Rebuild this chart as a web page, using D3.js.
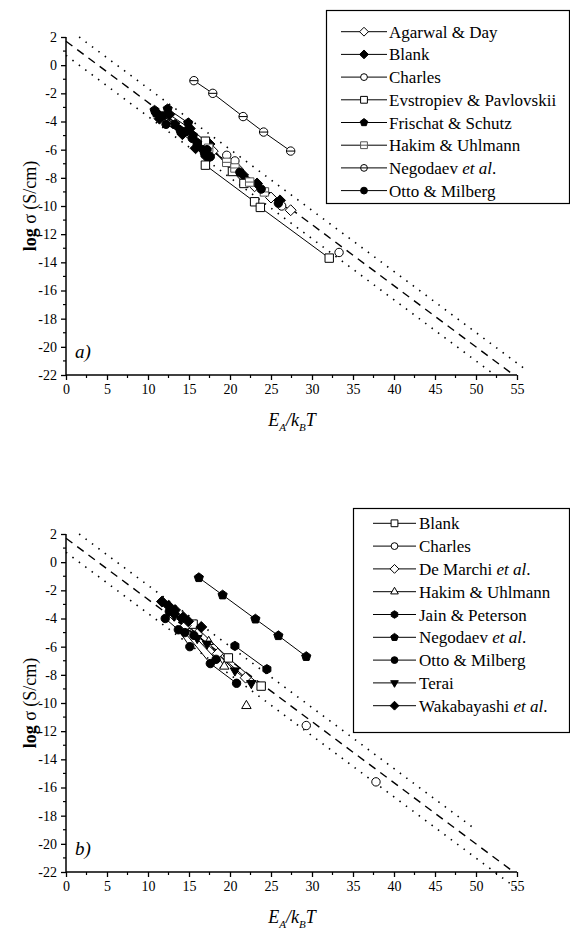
<!DOCTYPE html>
<html><head><meta charset="utf-8">
<script src="https://cdn.jsdelivr.net/npm/d3@7"></script>
<style>
body{margin:0;background:#fff}
</style>
</head><body>
<svg id="c" width="570" height="933"></svg>
<script>
// ---------- data ----------
const xTickValues = [0,5,10,15,20,25,30,35,40,45,50,55];
const yTickValues = [2,0,-2,-4,-6,-8,-10,-12,-14,-16,-18,-20,-22];
const xDomain = [0,55];
const yDomain = [-22,2];

// reference lines (data coordinates of end points)
const aRefDashed = [[0,1.7],[54.6,-22]];
const aRefDottedUpper = [[1.6,2],[55.8,-21.5]];
const aRefDottedLower = [[0,0.7],[52.3,-22]];
const bRefDashed = [[0,1.7],[54.6,-22]];
const bRefDottedUpper = [[1.6,2],[50.0,-19.0]];
const bRefDottedLower = [[0,0.7],[55.5,-23.4]];

// panel a) series : each series is a list of connected runs
const aNames = ["Agarwal & Day","Blank","Charles","Evstropiev & Pavlovskii","Frischat & Schutz","Hakim & Uhlmann","Negodaev et al.","Otto & Milberg"];
const aSymbols = ["diamondOpen","diamondFilled","circleOpen","squareOpen","pentagonFilled","squareLine","circleLine","circleFilled"];
const aAgarwal = [[[17.9,-6.1],[20.0,-7.0],[21.0,-7.4]], [[23.0,-8.6],[25.0,-9.4],[27.4,-10.3]]];
const aBlank = [[[11.4,-3.8],[14.2,-4.9],[16.6,-5.9]], [[12.6,-3.5],[15.1,-4.5],[17.5,-5.6]], [[15.8,-5.9],[17.3,-6.6]], [[21.6,-7.8],[23.3,-8.4],[26.1,-9.6]]];
const aCharles = [[[19.6,-6.4]],[[20.6,-6.8]],[[26.3,-10.0]],[[33.3,-13.3]]];
const aEvstropiev = [[[17.0,-7.1],[23.0,-9.7],[23.7,-10.1],[32.1,-13.7]], [[17.0,-5.4],[20.3,-7.55],[21.7,-8.4]]];
const aFrischat = [[[11.0,-3.4],[13.9,-4.6],[16.0,-5.5]], [[12.4,-3.1],[14.9,-4.1]], [[10.8,-3.2],[13.3,-4.2],[15.5,-5.0],[16.9,-6.3]]];
const aHakim = [[[17.4,-5.9],[19.6,-6.9],[20.6,-7.3]], [[22.4,-8.3],[24.2,-9.0]]];
const aNegodaev = [[[15.6,-1.1],[17.9,-2.0],[21.6,-3.65],[24.1,-4.75],[27.4,-6.1]]];
const aOtto = [[[11.8,-3.6],[14.6,-4.7],[17.2,-6.0]], [[12.2,-4.2],[15.4,-5.2]], [[16.0,-5.6],[17.6,-6.5]], [[21.2,-7.6],[23.8,-8.8],[25.9,-9.8]]];
const aSeries = [aAgarwal,aBlank,aCharles,aEvstropiev,aFrischat,aHakim,aNegodaev,aOtto];

// panel b) series
const bNames = ["Blank","Charles","De Marchi et al.","Hakim & Uhlmann","Jain & Peterson","Negodaev et al.","Otto & Milberg","Terai","Wakabayashi et al."];
const bSymbols = ["squareOpen","circleOpen","diamondOpen","triUpOpen","hexagonFilled","pentagonFilled","circleFilled","triDownFilled","diamondFilled"];
const bBlank = [[[15.5,-4.4],[19.8,-6.8],[23.8,-8.8]]];
const bCharles = [[[29.3,-11.6]],[[37.8,-15.6]]];
const bDeMarchi = [[[13.2,-3.8],[14.6,-4.5],[16.0,-5.1]], [[18.5,-6.5],[21.9,-8.2]]];
const bHakim = [[[17.4,-5.65],[19.3,-7.4]], [[22.0,-10.2]]];
const bJain = [[[20.6,-5.95],[24.5,-7.6]]];
const bNegodaev = [[[16.2,-1.1],[19.1,-2.33],[23.1,-4.04],[25.9,-5.22],[29.3,-6.7]]];
const bOtto = [[[12.1,-4.0],[13.7,-4.8],[15.1,-6.0]], [[14.5,-5.0],[17.6,-7.2],[20.8,-8.6]], [[12.6,-3.5],[15.6,-5.2],[18.3,-6.9]]];
const bTerai = [[[14.0,-4.0],[17.2,-5.8],[20.6,-7.7],[22.6,-8.6]], [[13.2,-3.8],[16.0,-5.4]]];
const bWakabayashi = [[[11.7,-2.8],[13.3,-3.4],[14.9,-4.2]], [[12.5,-3.1],[14.3,-3.9],[16.5,-4.6]]];
const bSeries = [bBlank,bCharles,bDeMarchi,bHakim,bJain,bNegodaev,bOtto,bTerai,bWakabayashi];

// ---------- drawing ----------
const svg = d3.select("#c");
const FONT = '"Liberation Serif", "Times New Roman", Times';

function symPath(type, s){
  const p = d3.path();
  const poly = (n, rot, r) => {
    for(let k=0;k<n;k++){
      const a = (rot + 360*k/n)*Math.PI/180;
      const x = r*Math.cos(a), y = r*Math.sin(a);
      if(k===0) p.moveTo(x,y); else p.lineTo(x,y);
    }
    p.closePath();
  };
  if(type.startsWith("circle")){ p.moveTo(s,0); p.arc(0,0,s,0,2*Math.PI); p.closePath(); if(type==="circleLine"){p.moveTo(-s,0);p.lineTo(s,0);} }
  else if(type.startsWith("square")){ p.rect(-s,-s,2*s,2*s); if(type==="squareLine"){p.moveTo(-s,0);p.lineTo(s,0);} }
  else if(type.startsWith("diamond")){ poly(4,-90,s*1.3); }
  else if(type.startsWith("pentagon")){ poly(5,-90,s*1.15); }
  else if(type.startsWith("hexagon")){ poly(6,-90,s*1.1); }
  else if(type.startsWith("triUp")){ poly(3,-90,s*1.3); }
  else if(type.startsWith("triDown")){ poly(3,90,s*1.3); }
  return p.toString();
}
function symStyle(sel, type){
  const filled = type.endsWith("Filled");
  const gray = type==="squareLine";
  sel.attr("fill", filled? "#000":"#fff")
     .attr("stroke", gray? "#555":"#000")
     .attr("stroke-width", 1);
}

function panel(opts){
  const {y0,y1,series,symbols,names,label,legend,refs} = opts;
  const x = d3.scaleLinear().domain(xDomain).range([66,517]);
  const y = d3.scaleLinear().domain(yDomain).range([y1,y0]);
  const g = svg.append("g");

  // reference lines
  const lg = d3.line().x(d=>x(d[0])).y(d=>y(d[1]));
  g.append("path").attr("d",lg(refs[0])).attr("fill","none").attr("stroke","#000")
    .attr("stroke-width",1.4).attr("stroke-dasharray","8,6");
  [refs[1], refs[2]].forEach(l=>{
    g.append("path").attr("d",lg(l)).attr("fill","none").attr("stroke","#000")
      .attr("stroke-width",1.6).attr("stroke-dasharray","1.5,6.5");
  });

  // data lines
  series.forEach(runs=>{
    runs.forEach(run=>{
      if(run.length>1) g.append("path").attr("d",lg(run)).attr("fill","none")
        .attr("stroke","#000").attr("stroke-width",1);
    });
  });
  // symbols
  series.forEach((runs,i)=>{
    runs.forEach(run=>{
      run.forEach(pt=>{
        g.append("path").attr("d",symPath(symbols[i],4.2))
          .attr("transform",`translate(${x(pt[0])},${y(pt[1])})`)
          .call(symStyle, symbols[i]);
      });
    });
  });

  // axes
  const xa = g.append("g").attr("transform",`translate(0,${y1})`)
    .call(d3.axisBottom(x).tickValues(xTickValues).tickSize(5).tickPadding(4).tickFormat(d3.format("d")));
  const ya = g.append("g").attr("transform",`translate(66,0)`)
    .call(d3.axisLeft(y).tickValues(yTickValues).tickSize(5).tickPadding(4).tickFormat(d=>d<0?"-"+Math.abs(d):d));
  // minor ticks
  const xMinor = xTickValues.slice(0,-1).map(v=>v+2.5);
  const yMinor = yTickValues.slice(0,-1).map(v=>v-1);
  g.append("g").selectAll("line").data(xMinor).join("line")
    .attr("x1",d=>x(d)).attr("x2",d=>x(d)).attr("y1",y1).attr("y2",y1+3).attr("stroke","#000").attr("stroke-width",1.2);
  g.append("g").selectAll("line").data(yMinor).join("line")
    .attr("x1",66).attr("x2",63).attr("y1",d=>y(d)).attr("y2",d=>y(d)).attr("stroke","#000").attr("stroke-width",1.2);
  [xa,ya].forEach(a=>{
    a.attr("font-family",null);
    a.select(".domain").attr("stroke-width",1.5).attr("d", a===xa? `M66,0H517` : `M0,${y0}V${y1}`);
    a.selectAll(".tick line").attr("stroke-width",1.3);
    a.selectAll("text").style("font-family",FONT).attr("font-size",14).attr("fill","#000");
  });

  // axis titles
  const xt = g.append("text").attr("x",292).attr("y",y1+51).attr("text-anchor","middle")
    .style("font-family",FONT).attr("font-size",18).attr("font-style","italic");
  xt.append("tspan").text("E");
  xt.append("tspan").text("A").attr("font-size",11).attr("dy",5);
  xt.append("tspan").text("/k").attr("dy",-5);
  xt.append("tspan").text("B").attr("font-size",11).attr("dy",5);
  xt.append("tspan").text("T").attr("dy",-5);

  const yt = g.append("text").attr("transform",`translate(36,${(y0+y1)/2}) rotate(-90)`)
    .attr("text-anchor","middle").style("font-family",FONT).attr("font-size",18);
  yt.append("tspan").text("log").attr("font-weight","bold");
  yt.append("tspan").text(" σ (S/cm)");

  g.append("text").attr("x",75).attr("y",y1-17).style("font-family",FONT)
    .attr("font-size",19).attr("font-style","italic").text(label);

  // legend
  const L = legend;
  g.append("rect").attr("x",L.x).attr("y",L.y).attr("width",L.w).attr("height",L.h)
    .attr("fill","#fff").attr("stroke","#000").attr("stroke-width",1.2);
  names.forEach((n,i)=>{
    const cy = L.firstY + i*L.step;
    g.append("line").attr("x1",L.lx1).attr("x2",L.lx2).attr("y1",cy).attr("y2",cy)
      .attr("stroke","#000").attr("stroke-width",1);
    g.append("path").attr("d",symPath(symbols[i],3.4))
      .attr("transform",`translate(${(L.lx1+L.lx2)/2},${cy})`).call(symStyle,symbols[i]);
    const t = g.append("text").attr("x",L.tx).attr("y",cy+6).style("font-family",FONT).attr("font-size",17);
    const m = n.match(/^(.*?)(et al\.)$/);
    if(m){ t.append("tspan").text(m[1]); t.append("tspan").text("et al").attr("font-style","italic"); t.append("tspan").text("."); }
    else t.text(n);
  });
}

panel({y0:37,y1:375,series:aSeries,symbols:aSymbols,names:aNames,label:"a)",
  refs:[aRefDashed,aRefDottedUpper,aRefDottedLower],
  legend:{x:326.5,y:10.5,w:243,h:193,firstY:31.7,step:22.7,lx1:341,lx2:387,tx:389}});
panel({y0:534,y1:872,series:bSeries,symbols:bSymbols,names:bNames,label:"b)",
  refs:[bRefDashed,bRefDottedUpper,bRefDottedLower],
  legend:{x:353.5,y:508.5,w:216,h:224,firstY:523.3,step:22.8,lx1:373,lx2:416,tx:419}});
</script>
</body></html>
